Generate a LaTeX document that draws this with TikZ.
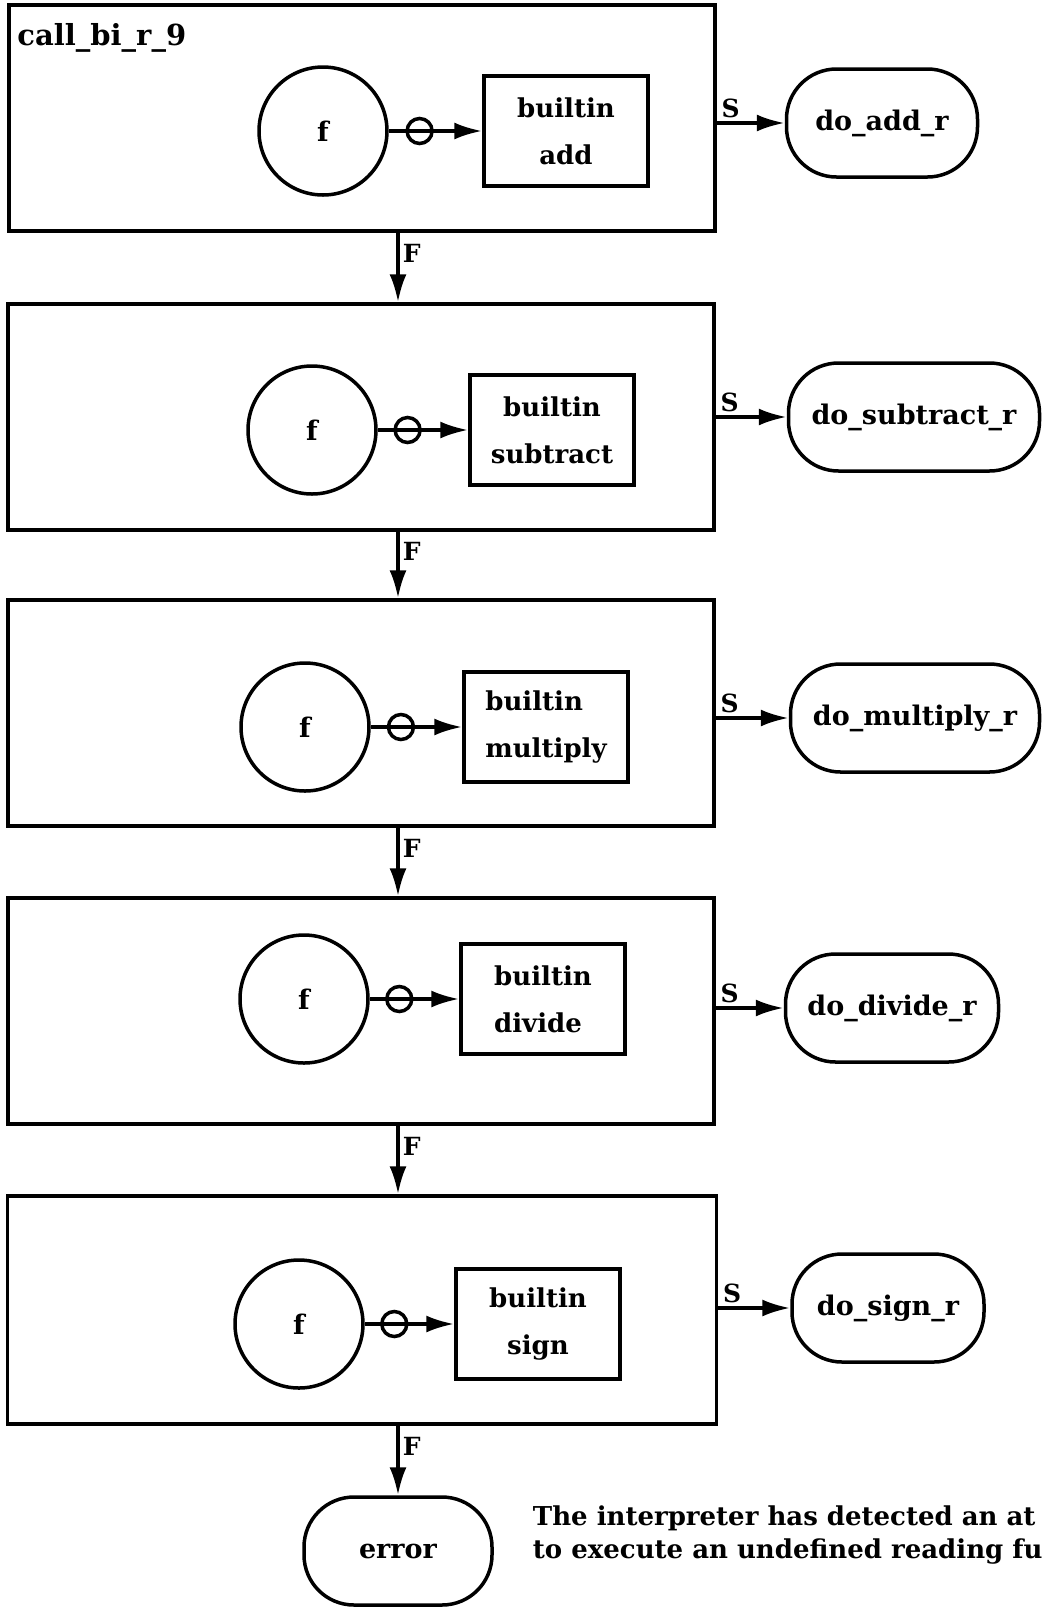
\documentclass[tikz,border=0pt]{standalone}
\usepackage{fontspec}
\setmainfont{DejaVu Serif}
\usetikzlibrary{positioning,arrows.meta}
\tikzset{
>={Latex[length=28pt,width=17pt]},
  every node/.style={font=\fontsize{27}{33}\selectfont\bfseries},
  stagebox/.style={
    rectangle,
    draw=black, line width=3.5pt,
    minimum width=706pt,
    minimum height=226pt},
  fcircle/.style={
    circle,
    draw=black, line width=3.5pt,
    minimum size=128pt},
  builtinbox/.style={
    rectangle,
    draw=black, line width=3.5pt,
    minimum width=164pt,
    minimum height=110pt,
    font=\fontsize{26}{47}\selectfont\bfseries},
  doterm/.style={
    rectangle,
    rounded corners=50pt,
    draw=black, line width=3.5pt,
    minimum height=108pt},
  flow/.style={draw, line width=3.5pt, ->},
  negmark/.style={circle, draw, line width=3.5pt, minimum size=25pt, inner sep=0pt},
  lab/.style={font=\fontsize{25}{25}\selectfont\bfseries, inner sep=3pt},
}
\begin{document}
\begin{tikzpicture}[x=1pt,y=-1pt]
\useasboundingbox (0,0) rectangle (1044,1607);

    % add
    \node [stagebox](call1) at (362,118) {};
    \node [anchor=north west, inner sep=0pt, font=\fontsize{29}{33}\selectfont\bfseries](calllab)
          at ([shift={(10,20)}]call1.north west) {call\_bi\_r\_9};
    \node [fcircle](f1) at (323,131) {f};
    \node [builtinbox, align=center](add) at (566,131) {builtin\\add};
    \node [doterm, minimum width=191pt](doadd) at (882,123) {do\_add\_r};

    % subtract
    \node [stagebox](call2) at (361,417) {};
    \node [fcircle](f2) at (312,430) {f};
    \node [builtinbox, align=center](sub) at (552,430) {builtin\\subtract};
    \node [doterm, minimum width=251pt](dosub) at (914,417) {do\_subtract\_r};

    % multiply
    \node [stagebox](call3) at (361,713) {};
    \node [fcircle](f3) at (305,727) {f};
    \node [builtinbox, align=left](mul) at (546,727) {builtin\\multiply};
    \node [doterm, minimum width=249pt](domul) at (915,718) {do\_multiply\_r};

    % divide
    \node [stagebox](call4) at (361,1011) {};
    \node [fcircle](f4) at (304,999) {f};
    \node [builtinbox, align=left](div) at (543,999) {builtin\\divide};
    \node [doterm, minimum width=213pt](dodiv) at (892,1008) {do\_divide\_r};

    % sign
    \node [stagebox, minimum width=709pt, minimum height=228pt](call5) at (362,1310) {};
    \node [fcircle](f5) at (299,1324) {f};
    \node [builtinbox, align=center](sgn) at (538,1324) {builtin\\sign};
    \node [doterm, minimum width=192pt](dosgn) at (888,1308) {do\_sign\_r};

    \node [doterm, minimum width=188pt](err) at (398,1551) {error};
    \node [right=39pt of err, yshift=16pt, align=left, inner sep=0pt,
           font=\fontsize{26}{33}\selectfont\bfseries](msg){The interpreter has detected an at\\
                                                             to execute an undefined reading fu};

    \draw[flow] (f1) -- (add) node[negmark, pos=0.33]{};
    \draw[flow] (f2) -- (sub) node[negmark, pos=0.33]{};
    \draw[flow] (f3) -- (mul) node[negmark, pos=0.33]{};
    \draw[flow] (f4) -- (div) node[negmark, pos=0.33]{};
    \draw[flow] (f5) -- (sgn) node[negmark, pos=0.33]{};

    \draw[flow] (call1.east |- doadd.west) -- (doadd.west) node[lab, pos=0, anchor=south west]{S};
    \draw[flow] (call2.east |- dosub.west) -- (dosub.west) node[lab, pos=0, anchor=south west]{S};
    \draw[flow] (call3.east |- domul.west) -- (domul.west) node[lab, pos=0, anchor=south west]{S};
    \draw[flow] (call4.east |- dodiv.west) -- (dodiv.west) node[lab, pos=0, anchor=south west]{S};
    \draw[flow] (call5.east |- dosgn.west) -- (dosgn.west) node[lab, pos=0, anchor=south west]{S};

    \draw[flow] (call1.south -| err) -- (call2.north -| err) node[lab, pos=0.3, right]{F};
    \draw[flow] (call2.south -| err) -- (call3.north -| err) node[lab, pos=0.3, right]{F};
    \draw[flow] (call3.south -| err) -- (call4.north -| err) node[lab, pos=0.3, right]{F};
    \draw[flow] (call4.south -| err) -- (call5.north -| err) node[lab, pos=0.3, right]{F};
    \draw[flow] (call5.south -| err) -- (err.north) node[lab, pos=0.3, right]{F};

\end{tikzpicture}
\end{document}
